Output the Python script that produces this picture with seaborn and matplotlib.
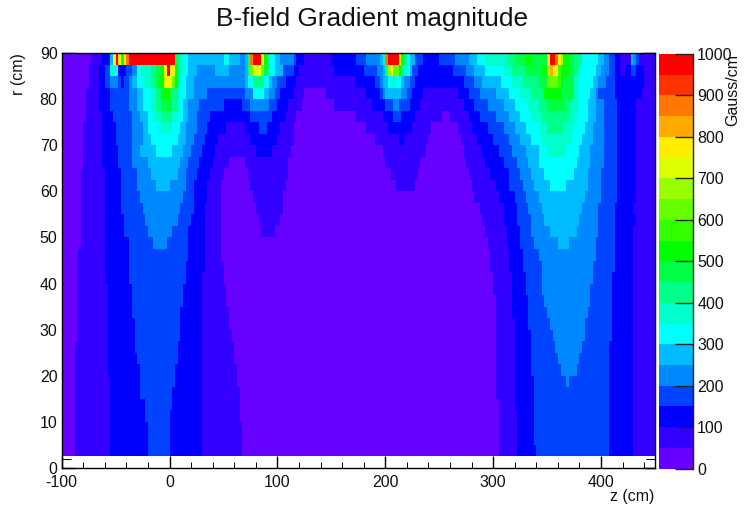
# bfield_gradient.py
import numpy as np
import pandas as pd
import matplotlib
matplotlib.use("Agg")
import matplotlib.pyplot as plt
from matplotlib.colors import ListedColormap
from matplotlib.ticker import FixedLocator
import seaborn as sns

# Each row of the map: (colour band, z where that band stops), band = Gauss/cm / 50
# Rows are 2.5 cm high, named after r, listed from the top of the plot down
r_88 = [(0,-72.5),(1,-62.5),(2,-55),(5,-52.5),(15,-50),(19,-47.5),(15,-45),(10,-42.5),(15,-40),(17,-37.5),(19,5),(9,7.5),(8,10),(7,12.5),(6,17.5),(5,50),(6,55),(5,65),(4,70),(5,72.5),(8,75),(17,77.5),(19,85),(15,87.5),(10,90),(8,92.5),(6,97.5),(5,102.5),(4,115),(3,117.5),(2,125),(1,150),(2,172.5),(3,182.5),(4,195),(5,197.5),(7,200),(17,202.5),(19,212.5),(15,215),(10,217.5),(8,220),(6,222.5),(5,227.5),(3,235),(2,250),(3,265),(4,277.5),(5,285),(6,292.5),(7,312.5),(8,320),(9,330),(10,335),(9,350),(15,352.5),(19,357.5),(17,360),(15,362.5),(13,365),(10,370),(9,375),(8,382.5),(6,397.5),(5,402.5),(4,407.5),(3,412.5),(2,417.5),(1,427.5),(5,430),(4,432.5),(3,435),(1,450)]
r_86 = [(0,-75),(1,-65),(2,-60),(3,-55),(7,-52.5),(6,-47.5),(2,-40),(3,-35),(4,-30),(6,-27.5),(7,-17.5),(8,-12.5),(9,-7.5),(10,-5),(15,-2.5),(19,0),(15,5),(10,7.5),(8,10),(7,12.5),(6,17.5),(5,25),(4,42.5),(5,55),(4,70),(5,72.5),(8,75),(12,77.5),(14,85),(12,87.5),(9,90),(8,92.5),(6,97.5),(5,105),(3,115),(2,120),(1,152.5),(2,180),(3,192.5),(4,197.5),(5,200),(8,202.5),(13,205),(15,207.5),(12,212.5),(10,215),(8,217.5),(7,220),(6,222.5),(5,225),(3,230),(2,262.5),(3,275),(4,282.5),(5,292.5),(6,310),(7,317.5),(8,330),(9,345),(10,350),(13,352.5),(16,355),(15,360),(11,362.5),(10,370),(9,375),(8,380),(6,395),(5,400),(4,407.5),(3,412.5),(2,417.5),(1,422.5),(2,427.5),(3,432.5),(2,440),(1,450)]
r_83 = [(0,-75),(1,-65),(2,-60),(3,-55),(4,-47.5),(3,-45),(2,-42.5),(3,-37.5),(4,-35),(5,-30),(6,-25),(7,-17.5),(8,-12.5),(9,-10),(10,-5),(14,-2.5),(15,2.5),(12,5),(10,7.5),(8,10),(6,15),(5,22.5),(4,70),(5,72.5),(6,77.5),(8,87.5),(6,92.5),(5,95),(4,100),(3,107.5),(2,117.5),(1,172.5),(2,190),(3,195),(4,197.5),(5,202.5),(6,205),(7,210),(6,215),(5,217.5),(4,222.5),(3,227.5),(2,272.5),(3,282.5),(4,290),(5,307.5),(6,317.5),(7,327.5),(8,342.5),(9,350),(12,360),(11,362.5),(10,365),(9,375),(7,380),(6,392.5),(5,397.5),(4,405),(3,412.5),(2,440),(1,450)]
r_81 = [(0,-77.5),(1,-65),(2,-55),(3,-37.5),(4,-30),(5,-25),(6,-17.5),(7,-12.5),(8,-7.5),(10,0),(11,2.5),(8,7.5),(7,10),(6,15),(5,22.5),(4,35),(3,70),(4,77.5),(6,87.5),(5,92.5),(4,97.5),(3,102.5),(2,115),(1,125),(0,145),(1,182.5),(2,195),(3,197.5),(4,200),(5,215),(4,220),(3,225),(2,235),(1,267.5),(2,277.5),(3,287.5),(4,302.5),(5,315),(6,325),(7,335),(8,347.5),(10,362.5),(9,375),(7,380),(6,390),(5,395),(4,397.5),(3,412.5),(2,437.5),(1,450)]
r_78 = [(0,-77.5),(1,-65),(2,-55),(3,-37.5),(4,-30),(5,-25),(6,-17.5),(7,-12.5),(8,-7.5),(9,2.5),(8,7.5),(7,10),(6,12.5),(5,17.5),(4,27.5),(3,50),(2,67.5),(3,75),(4,92.5),(3,100),(2,110),(1,122.5),(0,152.5),(1,187.5),(2,200),(3,207.5),(4,212.5),(3,222.5),(2,232.5),(1,272.5),(2,282.5),(3,295),(4,310),(5,320),(6,332.5),(7,342.5),(8,350),(9,367.5),(8,372.5),(7,380),(6,387.5),(5,395),(4,402.5),(3,415),(2,432.5),(1,450)]
r_76 = [(0,-77.5),(1,-62.5),(2,-52.5),(3,-35),(4,-27.5),(5,-20),(6,-15),(7,-7.5),(8,2.5),(7,7.5),(6,12.5),(5,17.5),(4,25),(3,37.5),(2,75),(3,95),(2,107.5),(1,117.5),(0,172.5),(1,197.5),(2,207.5),(3,215),(2,227.5),(1,252.5),(0,260),(1,277.5),(2,287.5),(3,302.5),(4,315),(5,325),(6,335),(7,345),(8,370),(7,377.5),(6,387.5),(5,395),(4,402.5),(3,415),(2,432.5),(1,450)]
r_73 = [(0,-80),(1,-62.5),(2,-50),(3,-35),(4,-25),(5,-20),(6,-10),(7,2.5),(6,10),(5,15),(4,25),(3,35),(2,52.5),(1,70),(2,82.5),(3,90),(2,102.5),(1,115),(0,182.5),(1,202.5),(2,225),(1,242.5),(0,267.5),(1,280),(2,295),(3,310),(4,320),(5,330),(6,342.5),(7,350),(8,365),(7,375),(6,385),(5,392.5),(4,402.5),(3,415),(2,432.5),(1,450)]
r_71 = [(0,-80),(1,-62.5),(2,-50),(3,-35),(4,-25),(5,-17.5),(6,7.5),(5,15),(4,22.5),(3,32.5),(2,45),(1,75),(2,100),(1,115),(0,190),(1,212.5),(2,217.5),(1,240),(0,270),(1,285),(2,300),(3,315),(4,325),(5,335),(6,345),(7,372.5),(6,382.5),(5,392.5),(4,402.5),(3,415),(2,432.5),(1,450)]
r_68 = [(0,-80),(1,-62.5),(2,-47.5),(3,-35),(4,-27.5),(5,-12.5),(6,2.5),(5,12.5),(4,20),(3,30),(2,42.5),(1,80),(2,95),(1,112.5),(0,197.5),(1,237.5),(0,272.5),(1,290),(2,305),(3,317.5),(4,330),(5,342.5),(6,350),(7,367.5),(6,380),(5,390),(4,402.5),(3,415),(2,432.5),(1,450)]
r_66 = [(0,-80),(1,-62.5),(2,-47.5),(3,-35),(4,-20),(5,10),(4,17.5),(3,27.5),(2,40),(1,55),(0,70),(1,110),(0,200),(1,232.5),(0,275),(1,292.5),(2,310),(3,322.5),(4,332.5),(5,342.5),(6,377.5),(5,390),(4,402.5),(3,415),(2,432.5),(1,450)]
r_63 = [(0,-82.5),(1,-60),(2,-45),(3,-30),(4,-17.5),(5,7.5),(4,15),(3,25),(2,37.5),(1,50),(0,72.5),(1,110),(0,205),(1,230),(0,277.5),(1,297.5),(2,315),(3,325),(4,335),(5,347.5),(6,375),(5,387.5),(4,400),(3,415),(2,432.5),(1,450)]
r_61 = [(0,-82.5),(1,-60),(2,-45),(3,-30),(4,-12.5),(5,0),(4,15),(3,22.5),(2,35),(1,47.5),(0,75),(1,107.5),(0,210),(1,227.5),(0,280),(1,302.5),(2,315),(3,327.5),(4,337.5),(5,352.5),(6,367.5),(5,387.5),(4,400),(3,415),(2,432.5),(1,450)]
r_58 = [(0,-82.5),(1,-60),(2,-45),(3,-27.5),(4,12.5),(3,22.5),(2,35),(1,47.5),(0,77.5),(1,105),(0,282.5),(1,305),(2,320),(3,330),(4,342.5),(5,385),(4,400),(3,415),(2,432.5),(1,450)]
r_56 = [(0,-82.5),(1,-60),(2,-45),(3,-25),(4,10),(3,22.5),(2,32.5),(1,47.5),(0,80),(1,105),(0,287.5),(1,310),(2,322.5),(3,332.5),(4,345),(5,382.5),(4,397.5),(3,412.5),(2,430),(1,450)]
r_53 = [(0,-82.5),(1,-60),(2,-42.5),(3,-22.5),(4,7.5),(3,20),(2,32.5),(1,47.5),(0,82.5),(1,102.5),(0,290),(1,310),(2,322.5),(3,335),(4,347.5),(5,380),(4,397.5),(3,412.5),(2,432.5),(1,450)]
r_51 = [(0,-82.5),(1,-60),(2,-42.5),(3,-20),(4,2.5),(3,17.5),(2,32.5),(1,47.5),(0,85),(1,97.5),(0,292.5),(1,312.5),(2,325),(3,335),(4,352.5),(5,377.5),(4,397.5),(3,412.5),(2,430),(1,450)]
r_48 = [(0,-82.5),(1,-60),(2,-37.5),(3,-15),(4,-2.5),(3,17.5),(2,32.5),(1,47.5),(0,295),(1,312.5),(2,325),(3,337.5),(4,360),(5,370),(4,395),(3,412.5),(2,430),(1,450)]
r_46 = [(0,-85),(1,-60),(2,-37.5),(3,17.5),(2,32.5),(1,47.5),(0,297.5),(1,315),(2,327.5),(3,342.5),(4,395),(3,412.5),(2,430),(1,450)]
r_43 = [(0,-85),(1,-60),(2,-37.5),(3,15),(2,32.5),(1,50),(0,297.5),(1,315),(2,327.5),(3,345),(4,392.5),(3,412.5),(2,430),(1,450)]
r_41 = [(0,-85),(1,-60),(2,-37.5),(3,15),(2,30),(1,50),(0,300),(1,317.5),(2,330),(3,345),(4,392.5),(3,410),(2,430),(1,450)]
r_38 = [(0,-85),(1,-57.5),(2,-35),(3,12.5),(2,30),(1,52.5),(0,300),(1,317.5),(2,330),(3,345),(4,390),(3,410),(2,430),(1,450)]
r_36 = [(0,-85),(1,-57.5),(2,-35),(3,12.5),(2,30),(1,52.5),(0,302.5),(1,317.5),(2,332.5),(3,347.5),(4,390),(3,410),(2,430),(1,450)]
r_33 = [(0,-85),(1,-57.5),(2,-35),(3,10),(2,30),(1,55),(0,302.5),(1,317.5),(2,332.5),(3,350),(4,387.5),(3,410),(2,430),(1,450)]
r_31 = [(0,-85),(1,-57.5),(2,-32.5),(3,10),(2,30),(1,55),(0,302.5),(1,320),(2,332.5),(3,352.5),(4,385),(3,410),(2,430),(1,450)]
r_28 = [(0,-85),(1,-57.5),(2,-32.5),(3,10),(2,30),(1,57.5),(0,302.5),(1,320),(2,335),(3,355),(4,385),(3,410),(2,430),(1,450)]
r_26 = [(0,-87.5),(1,-57.5),(2,-32.5),(3,7.5),(2,30),(1,60),(0,302.5),(1,320),(2,335),(3,357.5),(4,382.5),(3,407.5),(2,430),(1,450)]
r_23 = [(0,-87.5),(1,-57.5),(2,-30),(3,7.5),(2,30),(1,60),(0,302.5),(1,320),(2,335),(3,360),(4,380),(3,407.5),(2,430),(1,450)]
r_21 = [(0,-87.5),(1,-57.5),(2,-27.5),(3,5),(2,30),(1,62.5),(0,302.5),(1,320),(2,335),(3,362.5),(4,377.5),(3,407.5),(2,430),(1,450)]
r_18 = [(0,-87.5),(1,-55),(2,-27.5),(3,5),(2,30),(1,62.5),(0,302.5),(1,320),(2,337.5),(3,367.5),(4,370),(3,407.5),(2,430),(1,450)]
r_16 = [(0,-87.5),(1,-55),(2,-27.5),(3,2.5),(2,30),(1,65),(0,302.5),(1,320),(2,337.5),(3,407.5),(2,430),(1,450)]
r_13 = [(0,-87.5),(1,-55),(2,-22.5),(3,2.5),(2,30),(1,65),(0,305),(1,320),(2,337.5),(3,407.5),(2,430),(1,450)]
r_11 = [(0,-87.5),(1,-55),(2,-22.5),(3,0),(2,30),(1,65),(0,305),(1,322.5),(2,337.5),(3,407.5),(2,430),(1,450)]
r_08 = [(0,-87.5),(1,-55),(2,-20),(3,0),(2,30),(1,67.5),(0,305),(1,322.5),(2,337.5),(3,407.5),(2,430),(1,450)]
r_06 = [(0,-87.5),(1,-55),(2,-20),(3,0),(2,30),(1,67.5),(0,305),(1,322.5),(2,337.5),(3,407.5),(2,430),(1,450)]
r_03 = [(0,-87.5),(1,-55),(2,-20),(3,0),(2,30),(1,67.5),(0,305),(1,322.5),(2,340),(3,407.5),(2,430),(1,450)]

field_rows = [r_88, r_86, r_83, r_81, r_78, r_76, r_73, r_71, r_68, r_66, r_63, r_61,
              r_58, r_56, r_53, r_51, r_48, r_46, r_43, r_41, r_38, r_36, r_33, r_31,
              r_28, r_26, r_23, r_21, r_18, r_16, r_13, r_11, r_08, r_06, r_03]

# ROOT rainbow palette, one colour per 50 Gauss/cm
palette = ["#6600ff", "#3300ff", "#0000ff", "#0044ff", "#0088ff", "#00bbff", "#00ffff",
           "#00ffcc", "#00ff88", "#00ff44", "#00ff00", "#33ff00", "#66ff00", "#99ff00",
           "#ddff00", "#ffee00", "#ffaa00", "#ff7700", "#ff3300", "#ff0000"]

z_major = [-100, 0, 100, 200, 300, 400]
z_minor = list(range(-80, 450, 20))
r_major = [0, 10, 20, 30, 40, 50, 60, 70, 80, 90]
r_minor = list(range(0, 91, 2))
gauss_ticks = [0, 100, 200, 300, 400, 500, 600, 700, 800, 900, 1000]

Z_MIN, Z_MAX, R_MAX, BIN = -100, 450, 90, 2.5


# Turn the band runs into a table of Gauss/cm values, r = 0-2.5 stays empty
def build_table():
    z_left = np.arange(Z_MIN, Z_MAX, BIN)
    grid = np.full((len(field_rows) + 1, len(z_left)), np.nan)
    for i, row in enumerate(field_rows):
        start = Z_MIN
        for band, stop in row:
            grid[i, (z_left >= start) & (z_left < stop)] = band * 50 + 25
            start = stop
    r_top = R_MAX - BIN * np.arange(len(field_rows) + 1)
    return pd.DataFrame(grid, index=r_top, columns=z_left)


def z_pos(z):
    return (np.asarray(z) - Z_MIN) / BIN


def r_pos(r):
    return (R_MAX - np.asarray(r)) / BIN


def main():
    sns.set_style("ticks")
    plt.rcParams['font.family'] = ['Liberation Sans', 'DejaVu Sans']
    plt.rcParams['text.color'] = '#111111'
    plt.rcParams['xtick.labelcolor'] = '#111111'
    plt.rcParams['ytick.labelcolor'] = '#111111'
    W, H = 745, 512
    fig = plt.figure(figsize=(W / 100, H / 100), dpi=100)
    ax = fig.add_axes([61.7 / W, 1 - 468 / H, 593.3 / W, 415 / H])
    cax = fig.add_axes([659 / W, 1 - 468.7 / H, 34 / W, 414.7 / H])

    table = build_table()
    sns.heatmap(table, ax=ax, cbar_ax=cax, cmap=ListedColormap(palette), vmin=0, vmax=1000,
                xticklabels=False, yticklabels=False, cbar_kws={'ticks': gauss_ticks})
    ax.set_xlabel('')
    ax.set_ylabel('')

    # Ticks point inward and stay under the coloured cells
    ax.set_axisbelow(True)
    for side in ax.spines.values():
        side.set_visible(True)
        side.set_color('black')
        side.set_linewidth(1.0)
    ax.xaxis.set_major_locator(FixedLocator(z_pos(z_major)))
    ax.xaxis.set_minor_locator(FixedLocator(z_pos(z_minor)))
    ax.yaxis.set_major_locator(FixedLocator(r_pos(r_major)))
    ax.yaxis.set_minor_locator(FixedLocator(r_pos(r_minor)))
    ax.set_xticklabels([str(v) for v in z_major])
    ax.set_yticklabels([str(v) for v in r_major], rotation=0)
    ax.tick_params(axis='x', which='major', direction='in', length=9, width=1, color='black',
                   labelsize=11.5, pad=5, bottom=True, top=False)
    ax.tick_params(axis='x', which='minor', direction='in', length=4.5, width=0.7, color='black',
                   bottom=True, top=False)
    ax.tick_params(axis='y', which='major', direction='in', length=9, width=1, color='black',
                   labelsize=11.5, pad=3, left=True, right=True)
    ax.tick_params(axis='y', which='minor', direction='in', length=6.5, width=0.7, color='black',
                   left=True, right=True)

    # Colour scale
    cax.yaxis.set_major_locator(FixedLocator(gauss_ticks))
    cax.set_yticklabels([str(v) for v in gauss_ticks])
    cax.tick_params(axis='y', direction='in', length=13, width=1, color='#222222', labelsize=11.5,
                    pad=3, right=True, left=False)
    cax.set_axisbelow(False)
    cax.spines['right'].set_visible(True)
    cax.spines['right'].set_color('#222222')
    cax.spines['right'].set_linewidth(1.0)

    fig.text(372.5 / W, 1 - 19 / H, 'B-field Gradient magnitude', ha='center', va='center', fontsize=18.9)
    fig.text(654 / W, 1 - 497 / H, 'z (cm)', ha='right', va='center', fontsize=11.5)
    fig.text(19 / W, 1 - 53 / H, 'r (cm)', ha='center', va='top', rotation=90, fontsize=11.5)
    fig.text(733 / W, 1 - 54 / H, 'Gauss/cm', ha='center', va='top', rotation=90, fontsize=11.5)

    fig.savefig('out.png', dpi=100)


if __name__ == "__main__":
    main()
